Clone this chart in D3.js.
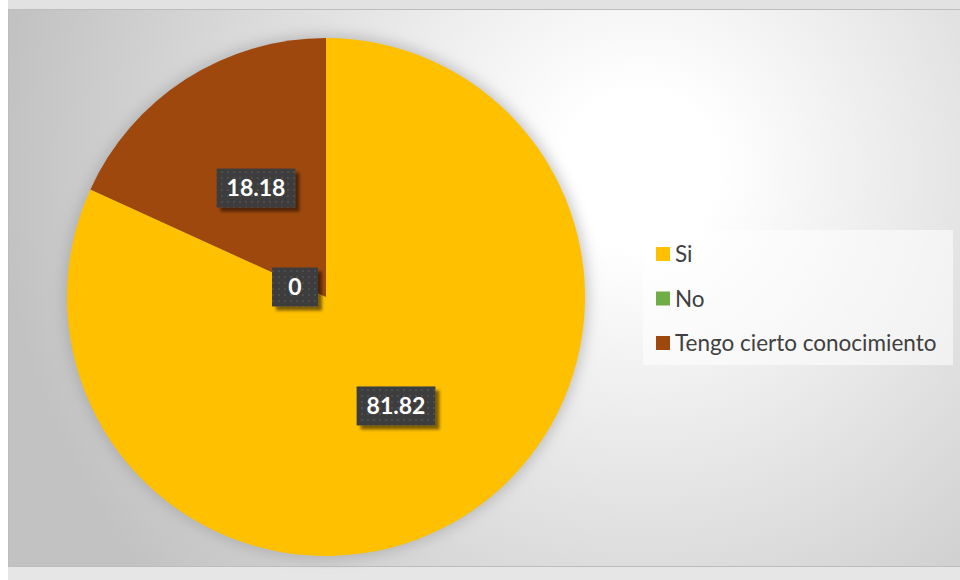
<!DOCTYPE html>
<html>
<head>
<meta charset="utf-8">
<script src="https://cdn.jsdelivr.net/npm/d3@7"></script>
<style>
  html, body { margin: 0; padding: 0; background: #ffffff; }
  svg { display: block; }
</style>
</head>
<body>
<svg id="chart" width="960" height="580"></svg>
<script>
// Survey answers and their shares (percent)
const categories = ["Si", "No", "Tengo cierto conocimiento"];
const values = [81.82, 0, 18.18];
const colors = ["#FFC000", "#70AD47", "#9E480E"];

const W = 960, H = 580;
const svg = d3.select("#chart");
const defs = svg.append("defs");

// Chart area background: soft radial gradient, light toward the upper right
const bg = defs.append("radialGradient").attr("id", "bgGrad")
  .attr("gradientUnits", "userSpaceOnUse")
  .attr("cx", 640).attr("cy", 170).attr("r", 640);
bg.append("stop").attr("offset", "0").attr("stop-color", "#ffffff");
bg.append("stop").attr("offset", "0.12").attr("stop-color", "#ffffff");
bg.append("stop").attr("offset", "1").attr("stop-color", "#c2c2c2");

// Soft halo behind the pie
const halo = defs.append("filter").attr("id", "halo")
  .attr("x", "-20%").attr("y", "-20%").attr("width", "140%").attr("height", "140%");
halo.append("feGaussianBlur").attr("stdDeviation", 7);

// Drop shadow of the value boxes
const boxShadow = defs.append("filter").attr("id", "boxShadow")
  .attr("x", "-20%").attr("y", "-30%").attr("width", "150%").attr("height", "170%");
boxShadow.append("feGaussianBlur").attr("in", "SourceAlpha").attr("stdDeviation", 1.5).attr("result", "b");
boxShadow.append("feOffset").attr("in", "b").attr("dx", 4).attr("dy", 4).attr("result", "o");
boxShadow.append("feComponentTransfer").attr("in", "o").attr("result", "s")
  .append("feFuncA").attr("type", "linear").attr("slope", 0.5);
const bm = boxShadow.append("feMerge");
bm.append("feMergeNode").attr("in", "s");
bm.append("feMergeNode").attr("in", "SourceGraphic");

// Dotted texture of the value boxes
const pat = defs.append("pattern").attr("id", "dots")
  .attr("patternUnits", "userSpaceOnUse").attr("width", 6).attr("height", 6);
pat.append("rect").attr("width", 6).attr("height", 6).attr("fill", "#3d3d3d");
pat.append("rect").attr("x", 1).attr("y", 1).attr("width", 2).attr("height", 2).attr("fill", "#4e4e4e");

// Page strips around the chart area
svg.append("rect").attr("x", 0).attr("y", 0).attr("width", W).attr("height", H).attr("fill", "#ffffff");
svg.append("rect").attr("x", 8).attr("y", 0).attr("width", W - 8).attr("height", 9).attr("fill", "#e2e2e2");
svg.append("rect").attr("x", 8).attr("y", 567).attr("width", W - 8).attr("height", H - 567).attr("fill", "#e6e6e6");

// Chart area
svg.append("rect")
  .attr("x", 8.5).attr("y", 9.5).attr("width", W - 8).attr("height", 557)
  .attr("fill", "url(#bgGrad)")
  .attr("stroke", "#bdbdbd").attr("stroke-width", 1);

// Pie
const cx = 326, cy = 297, R = 259;
const g = svg.append("g").attr("transform", `translate(${cx},${cy})`);

g.append("circle").attr("r", R + 3).attr("fill", "#9a9a9a")
  .attr("opacity", 0.55).attr("filter", "url(#halo)");

const data = categories.map((c, i) => ({ name: c, value: values[i], color: colors[i] }));
const pie = d3.pie().value(d => d.value).sort(null);
const arcs = pie(data);
const arc = d3.arc().innerRadius(0).outerRadius(R);
const labelArc = d3.arc().innerRadius(R * 0.5).outerRadius(R * 0.5);

g.selectAll("path.slice")
  .data(arcs.filter(a => a.data.value > 0))
  .join("path")
  .attr("class", "slice")
  .attr("d", arc)
  .attr("fill", d => d.data.color);

// Value labels in dark boxes
const fmt = v => (v === 0 ? "0" : d3.format(".2f")(v));
arcs.forEach(a => {
  let [lx, ly] = labelArc.centroid(a);
  if (a.data.value === 0) { lx = -31; ly = -10; } // empty slice: label sits beside the centre
  const lg = g.append("g").attr("transform", `translate(${lx},${ly})`);
  const t = lg.append("text")
    .attr("text-anchor", "middle").attr("dy", "0.36em")
    .attr("font-family", "Lato, 'Open Sans', sans-serif")
    .attr("font-weight", "bold").attr("font-size", 23)
    .attr("fill", "#ffffff")
    .text(fmt(a.data.value));
  const bb = t.node().getBBox();
  const h = 39;
  const w = Math.max(bb.width + 20, 46);
  lg.insert("rect", "text")
    .attr("x", -w / 2).attr("y", -h / 2)
    .attr("width", w).attr("height", h)
    .attr("fill", "url(#dots)")
    .attr("filter", "url(#boxShadow)");
});

// Legend
const lgX = 643, lgY = 230;
const legend = svg.append("g");
legend.append("rect")
  .attr("x", lgX).attr("y", lgY).attr("width", 310).attr("height", 135)
  .attr("fill", "#ffffff").attr("fill-opacity", 0.55);
const rows = legend.selectAll("g.row").data(data).join("g")
  .attr("class", "row")
  .attr("transform", (d, i) => `translate(${lgX + 13},${lgY + 24 + i * 44.5})`);
rows.append("rect").attr("x", 0).attr("y", -7).attr("width", 14).attr("height", 14)
  .attr("fill", d => d.color);
rows.append("text")
  .attr("x", 19).attr("dy", "0.36em")
  .attr("font-family", "Lato, 'Open Sans', sans-serif")
  .attr("font-size", 22.5)
  .attr("fill", "#404040")
  .text(d => d.name);
</script>
</body>
</html>
